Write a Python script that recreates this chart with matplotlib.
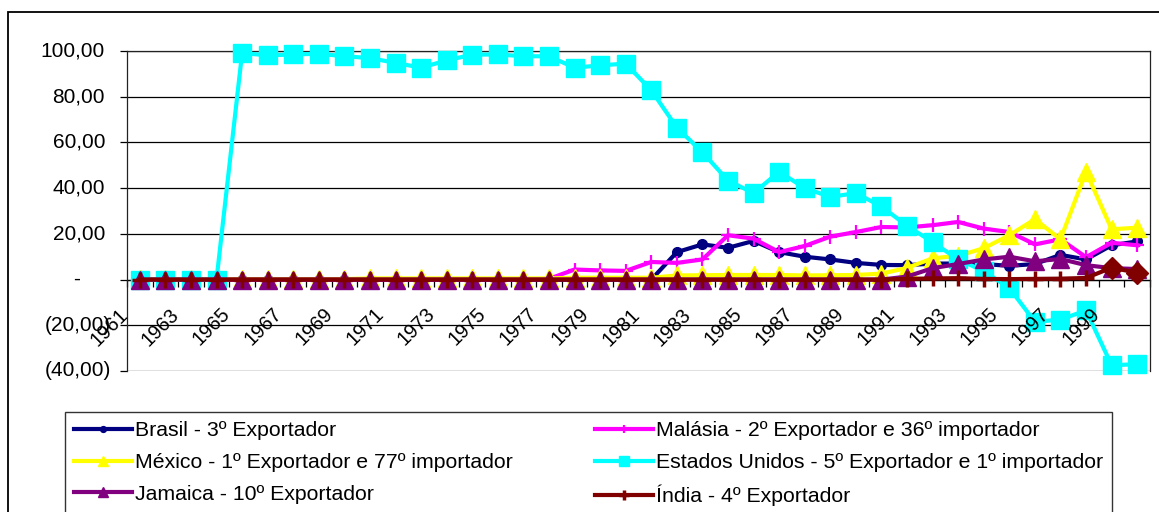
import matplotlib
matplotlib.use("Agg")
import matplotlib.pyplot as plt
import matplotlib.transforms as mtransforms
from matplotlib.patches import Rectangle
import numpy as np

plt.rcParams['font.family'] = ['Liberation Sans', 'DejaVu Sans']

years = list(range(1961, 2001))

brasil = [0]*20 + [0.0, 12.0, 15.4, 13.9, 16.9, 12.0, 10.0, 8.8, 7.3, 6.4, 6.3,
                   7.0, 7.0, 6.8, 6.0, 6.8, 10.8, 8.8, 15.0, 16.7]
malasia = [0]*16 + [0.3, 4.4, 4.0, 3.8, 7.7, 7.3, 8.8, 19.4, 17.9, 12.0, 14.7,
                    18.8, 20.8, 23.0, 22.8, 23.8, 25.2, 22.3, 20.8, 15.4, 17.6,
                    9.8, 16.1, 15.0]
mexico = [0.2]*9 + [0.5]*8 + [0.8]*4 + [1.8, 1.9, 2.0, 2.0, 2.0, 1.8, 1.9, 2.0,
                                         2.6, 5.1, 9.3, 10.4, 13.7, 19.4, 26.4,
                                         17.6, 47.2, 22.0, 22.7]
eua = [0, 0, 0, 0, 99.1, 98.1, 98.5, 98.8, 97.7, 96.9, 94.8, 92.7, 95.9, 98.4,
       98.5, 97.7, 97.7, 92.7, 93.7, 94.5, 82.8, 66.5, 55.7, 43.3, 37.8, 47.2,
       40.0, 36.2, 37.8, 32.0, 23.5, 16.4, 8.8, 3.7, -3.7, -18.5, -17.5, -13.5,
       -37.5, -37.0]
jamaica = [0]*30 + [1.3, 5.0, 6.8, 8.8, 10.0, 8.0, 9.0, 6.3, 5.0, 4.6]
india = [0]*30 + [0.3, 0.5, 0.6, 0.3, 0.2, 0.3, 0.4, 0.7, 5.2, 3.0]

labels = ["Brasil - 3º Exportador",
          "Malásia - 2º Exportador e 36º importador",
          "México - 1º Exportador e 77º importador",
          "Estados Unidos - 5º Exportador e 1º importador",
          "Jamaica - 10º Exportador",
          "Índia - 4º Exportador"]

yticks = [-40, -20, 0, 20, 40, 60, 80, 100]
ytick_labels = ["(40,00)", "(20,00)", "-", "20,00", "40,00", "60,00", "80,00", "100,00"]

W, H = 1159, 512
fig = plt.figure(figsize=(W/100, H/100), dpi=100)
fig.patch.set_facecolor('white')
ax = fig.add_axes([127/W, 1-371/H, (1150-127)/W, (371-51)/H])

x = np.arange(len(years))
lw = 3.0
h_br, = ax.plot(x, brasil, color='#000080', lw=lw, marker='o', ms=7,
                mec='#000080', mfc='#000080', clip_on=False, zorder=3)
h_ma, = ax.plot(x, malasia, color='#FF00FF', lw=lw, marker='+', ms=10, mew=1.6,
                mec='#FF00FF', clip_on=False, zorder=3)
h_mx, = ax.plot(x, mexico, color='#FFFF00', lw=lw, marker='^', ms=13,
                mec='#FFFF00', mfc='#FFFF00', clip_on=False, zorder=3)
h_us, = ax.plot(x, eua, color='#00FFFF', lw=lw, marker='s', ms=12.5,
                mec='#00FFFF', mfc='#00FFFF', clip_on=False, zorder=3)
h_ja, = ax.plot(x, jamaica, color='#800080', lw=lw, marker='^', ms=13,
                mec='#800080', mfc='#800080', clip_on=False, zorder=3)
h_in, = ax.plot(x, india, color='#800000', lw=lw, marker='+', ms=12, mew=2.5,
                mec='#800000', markevery=list(range(len(years)-2)),
                clip_on=False, zorder=3)
ax.plot(x[-2:], india[-2:], ls='none', marker='D', ms=11, color='#800000',
        clip_on=False, zorder=3)

ax.set_xlim(-0.5, len(years)-0.5)
ax.set_ylim(-40, 100)

# gridlines
ax.set_yticks(yticks)
ax.set_yticklabels([])
ax.yaxis.grid(True, color='black', lw=0.9)
ax.set_axisbelow(True)
ax.tick_params(axis='y', length=5, width=0.9, direction='out', color='black')

# category axis crossing at zero
ax.spines['bottom'].set_position(('data', 0))
ax.spines['bottom'].set_zorder(1)
ax.spines['bottom'].set_linewidth(0.9)
ax.set_xticks(np.arange(-0.5, len(years), 1))
ax.set_xticklabels([])
ax.tick_params(axis='x', length=5, width=0.9, direction='out', color='black')
for s in ['left', 'right', 'top']:
    ax.spines[s].set_linewidth(0.9)
    ax.spines[s].set_color('#222222')

# year labels
off = mtransforms.ScaledTranslation(-8/100, -25/100, fig.dpi_scale_trans)
for i in range(0, len(years), 2):
    ax.text(x[i], 0, str(years[i]), rotation=45, ha='right', va='top',
            fontsize=14.3, transform=ax.transData + off, zorder=5)

# y labels (accounting style)
bt = mtransforms.blended_transform_factory(fig.transFigure, ax.transData)
for v, lab in zip(yticks, ytick_labels):
    if v > 0:
        xr = 105
    elif v < 0:
        xr = 111
    else:
        xr = 80
    ax.text(xr/W, v, lab, ha='right', va='center', fontsize=15, transform=bt)

# legend (row-major order like Excel)
order = [h_br, h_mx, h_ja, h_ma, h_us, h_in]
order_labels = [labels[0], labels[2], labels[4], labels[1], labels[3], labels[5]]
leg = fig.legend(order, order_labels, ncol=2, loc='upper left',
                 bbox_to_anchor=(65/W, 0, (1112-65)/W, 1-412/H),
                 bbox_transform=fig.transFigure, mode='expand',
                 fontsize=15.3, frameon=True, fancybox=False, shadow=False,
                 edgecolor='black', borderpad=0.44, handlelength=2.72,
                 handletextpad=0.14, labelspacing=0.6, markerscale=0.6,
                 borderaxespad=0)
leg.get_frame().set_linewidth(1.0)

# outer chart border
fig.add_artist(Rectangle((8/W, -0.2), 1.2, (H-11.5)/H + 0.2,
                         transform=fig.transFigure, fill=False,
                         edgecolor='black', lw=1.3))

fig.savefig('out.png', dpi=100, facecolor='white')
